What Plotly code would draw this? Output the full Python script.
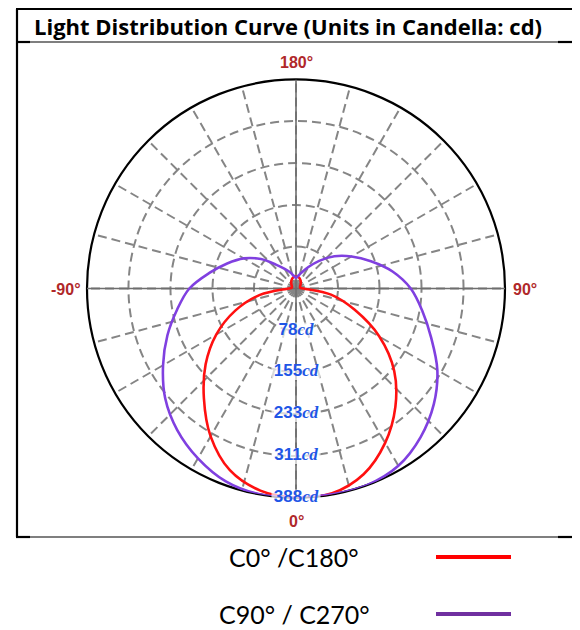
import plotly.graph_objects as go

# ---------------- data ----------------
title_text = "Light Distribution Curve (Units in Candella: cd)"
gamma = [0, 10, 20, 30, 40, 50, 60, 70, 80, 90, 100, 110, 120, 130, 140, 150, 160, 170, 180]
c0_cd = [388, 386, 367, 331, 287, 238, 179, 116, 66, 14, 8, 8, 9, 11, 14, 17, 20, 22, 22]
c180_cd = [388, 381, 359, 317, 266, 219, 171, 120, 68, 14, 8, 8, 9, 11, 14, 17, 20, 22, 22]
c90_cd = [388, 388, 388, 380, 360, 334, 303, 267, 238, 213, 182, 148, 119, 93, 67, 46, 32, 24, 20]
c270_cd = [388, 388, 381, 364, 343, 317, 285, 254, 224, 198, 164, 136, 112, 85, 58, 42, 32, 24, 20]
ring_values = [78, 155, 233, 311, 388]
angle_tickvals = list(range(0, 360, 15))
angle_label_text = ["180°", "0°", "90°", "-90°"]
series_names = ["C0° /C180°", "C90° / C270°"]
series_colors = ["#ff1010", "#8040e0"]
legend_colors = ["#ff0000", "#7030a0"]

# ---------------- helpers ----------------
OFF = 8  # page body margin
W, H = 580 - OFF, 630 - OFF


def px(x):
    return (x - OFF) / W


def py(y):
    return 1 - (y - OFF) / H


def full_curve(left, right):
    theta = [-g for g in gamma[::-1]] + gamma[1:]
    r = left[::-1] + right[1:]
    return theta, r


r_max = ring_values[-1]
fig = go.Figure()

# solid main axes (horizontal / vertical)
fig.add_trace(go.Scatterpolar(r=[r_max, 0, r_max], theta=[90, 0, -90], mode="lines",
                              line=dict(color="#6e6e6e", width=1.6), hoverinfo="skip", showlegend=False))
fig.add_trace(go.Scatterpolar(r=[r_max, 0, r_max], theta=[0, 0, 180], mode="lines",
                              line=dict(color="#6e6e6e", width=1.6), hoverinfo="skip", showlegend=False))

# curves
t, r = full_curve(c180_cd, c0_cd)
fig.add_trace(go.Scatterpolar(r=r, theta=t, mode="lines", name=series_names[0],
                              line=dict(color=series_colors[0], width=2.6, shape="spline", smoothing=1.0),
                              showlegend=False))
t, r = full_curve(c270_cd, c90_cd)
fig.add_trace(go.Scatterpolar(r=r, theta=t, mode="lines", name=series_names[1],
                              line=dict(color=series_colors[1], width=2.6, shape="spline", smoothing=1.0),
                              showlegend=False))

# radial labels (white background + text)
fig.add_trace(go.Scatterpolar(r=ring_values, theta=[0] * len(ring_values), mode="markers",
                              marker=dict(symbol="line-ew", size=[26 if v < 100 else 35 for v in ring_values],
                                          line=dict(color="white", width=16), color="white"),
                              hoverinfo="skip", showlegend=False))
fig.add_trace(go.Scatterpolar(
    r=ring_values, theta=[0] * len(ring_values), mode="text",
    text=[f"<b>{v}</b><span style='font-family:Liberation Serif'><b><i>cd</i></b></span>" for v in ring_values],
    textposition="middle center",
    textfont=dict(family="Liberation Sans", size=17, color="#1f56e6"),
    hoverinfo="skip", showlegend=False))

grid_dash = "9px,5px"
fig.update_layout(
    width=W, height=H, autosize=False,
    margin=dict(l=0, r=0, t=0, b=0),
    paper_bgcolor="white",
    showlegend=False,
    polar=dict(
        domain=dict(x=[px(87), px(505)], y=[py(501), py(76)]),
        bgcolor="white",
        radialaxis=dict(range=[0, r_max], tickvals=ring_values, showticklabels=False, ticks="",
                        showline=False, gridcolor="#858585", gridwidth=2.2, griddash=grid_dash,
                        layer="below traces"),
        angularaxis=dict(rotation=270, direction="counterclockwise",
                         tickvals=angle_tickvals, showticklabels=False,
                         ticks="", showline=True, linecolor="black", linewidth=2.2,
                         gridcolor="#858585", gridwidth=2.2, griddash=grid_dash,
                         layer="below traces"),
    ),
)

# angular labels just outside the outer circle
angle_label_pos = [(296, 62), (296, 521), (525, 289), (66, 289)]
for s, (lx, ly) in zip(angle_label_text, angle_label_pos):
    fig.add_annotation(x=px(lx), y=py(ly), xref="paper", yref="paper", xanchor="center", yanchor="middle",
                       text=f"<b>{s}</b>", showarrow=False,
                       font=dict(family="Liberation Sans", size=16, color="#b0282a"))

# title
fig.add_annotation(x=px(32), y=py(26), xref="paper", yref="paper", xanchor="left", yanchor="middle",
                   text=f"<b>{title_text}</b>", showarrow=False,
                   font=dict(family="Open Sans", size=22, color="black"))

# frame lines
frame = [
    (17, 9, 17, 537, 2.2),
    (16, 9, 580, 9, 2.2),
    (16, 42, 580, 42, 1.2),
    (16, 537, 580, 537, 1.2),
    (16, 42, 30, 42, 2.2),
    (558, 42, 580, 42, 2.2),
    (16, 537, 30, 537, 2.2),
    (558, 537, 580, 537, 2.2),
]
for x0, y0, x1, y1, w in frame:
    fig.add_shape(type="line", xref="paper", yref="paper", x0=px(x0), y0=py(y0), x1=px(x1), y1=py(y1),
                  line=dict(color="black", width=w))

# legend
legend_text_x = [227, 217]
legend_y = [557, 614]
for name, col, tx, ly in zip(series_names, legend_colors, legend_text_x, legend_y):
    fig.add_annotation(x=px(tx), y=py(ly), xref="paper", yref="paper", xanchor="left", yanchor="middle",
                       text=name, showarrow=False, font=dict(family="Lato", size=25, color="black"))
    fig.add_shape(type="line", xref="paper", yref="paper", x0=px(436), y0=py(ly), x1=px(511), y1=py(ly),
                  line=dict(color=col, width=4))

fig.write_html("out.html")
